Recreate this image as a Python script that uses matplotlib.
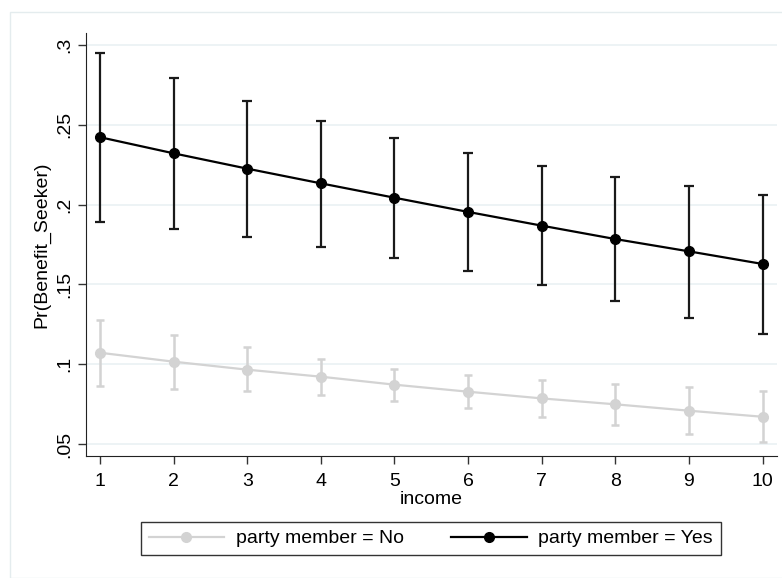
import matplotlib.pyplot as plt
from matplotlib.patches import Rectangle

plt.rcParams['font.family'] = ['Liberation Sans', 'DejaVu Sans']

# Data
income = [1, 2, 3, 4, 5, 6, 7, 8, 9, 10]

no_mean = [0.1072, 0.1016, 0.0966, 0.0922, 0.0872, 0.0828, 0.0786, 0.0749, 0.0709, 0.0671]
no_upper = [0.1280, 0.1183, 0.1106, 0.1031, 0.0972, 0.0930, 0.0901, 0.0876, 0.0855, 0.0834]
no_lower = [0.0863, 0.0847, 0.0834, 0.0805, 0.0772, 0.0724, 0.0671, 0.0617, 0.0561, 0.0510]

yes_mean = [0.2422, 0.2321, 0.2225, 0.2133, 0.2043, 0.1954, 0.1868, 0.1784, 0.1707, 0.1628]
yes_upper = [0.2948, 0.2791, 0.2651, 0.2526, 0.2415, 0.2321, 0.2244, 0.2173, 0.2115, 0.2060]
yes_lower = [0.1891, 0.1847, 0.1797, 0.1736, 0.1665, 0.1584, 0.1494, 0.1394, 0.1291, 0.1187]

yticks = [0.05, 0.1, 0.15, 0.2, 0.25, 0.3]
ytick_labels = ['.05', '.1', '.15', '.2', '.25', '.3']

gray = '#d3d3d3'

fig = plt.figure(figsize=(7.82, 5.78), dpi=100)
fig.patches.append(Rectangle((10 / 782, 0), 1, 1 - 12 / 578, transform=fig.transFigure,
                             fill=False, edgecolor='#e4ecee', linewidth=1))
ax = fig.add_axes([0.110, 0.211, 0.884, 0.732])

no_err = [[m - l for m, l in zip(no_mean, no_lower)], [u - m for m, u in zip(no_mean, no_upper)]]
yes_err = [[m - l for m, l in zip(yes_mean, yes_lower)], [u - m for m, u in zip(yes_mean, yes_upper)]]

ax.errorbar(income, no_mean, yerr=no_err, fmt='none', ecolor=gray, elinewidth=1.8, capsize=3.2, capthick=1.8)
ax.plot(income, no_mean, color=gray, linewidth=1.6, marker='o', markersize=7, label='party member = No')

ax.errorbar(income, yes_mean, yerr=yes_err, fmt='none', ecolor='#1a1a1a', elinewidth=1.6, capsize=3.4, capthick=1.6)
ax.plot(income, yes_mean, color='black', linewidth=1.6, marker='o', markersize=7, label='party member = Yes')

ax.set_xlim(0.81, 10.2)
ax.set_ylim(0.0425, 0.3075)
ax.set_xticks(income)
ax.set_yticks(yticks)
ax.set_yticklabels(ytick_labels, rotation=90, va='center')
ax.tick_params(labelsize=14, length=6, width=1, color='#333333')
ax.tick_params(axis='x', pad=6)
ax.grid(axis='y', color='#eaf1f3', linewidth=1.2)
ax.set_axisbelow(True)
for s in ['top', 'right']:
    ax.spines[s].set_visible(False)
for s in ['left', 'bottom']:
    ax.spines[s].set_color('#222222')
ax.set_xlabel('income', fontsize=14, labelpad=1)
ax.set_ylabel('Pr(Benefit_Seeker)', fontsize=14, labelpad=4)

leg = ax.legend(loc='upper center', bbox_to_anchor=(0.4986, -0.156), ncol=2, fontsize=14,
                frameon=True, fancybox=False, edgecolor='black', handlelength=3.9,
                handletextpad=0.6, columnspacing=2.4, borderpad=0.4, borderaxespad=0)
leg.get_frame().set_linewidth(1)

plt.savefig('out.png', dpi=100)
